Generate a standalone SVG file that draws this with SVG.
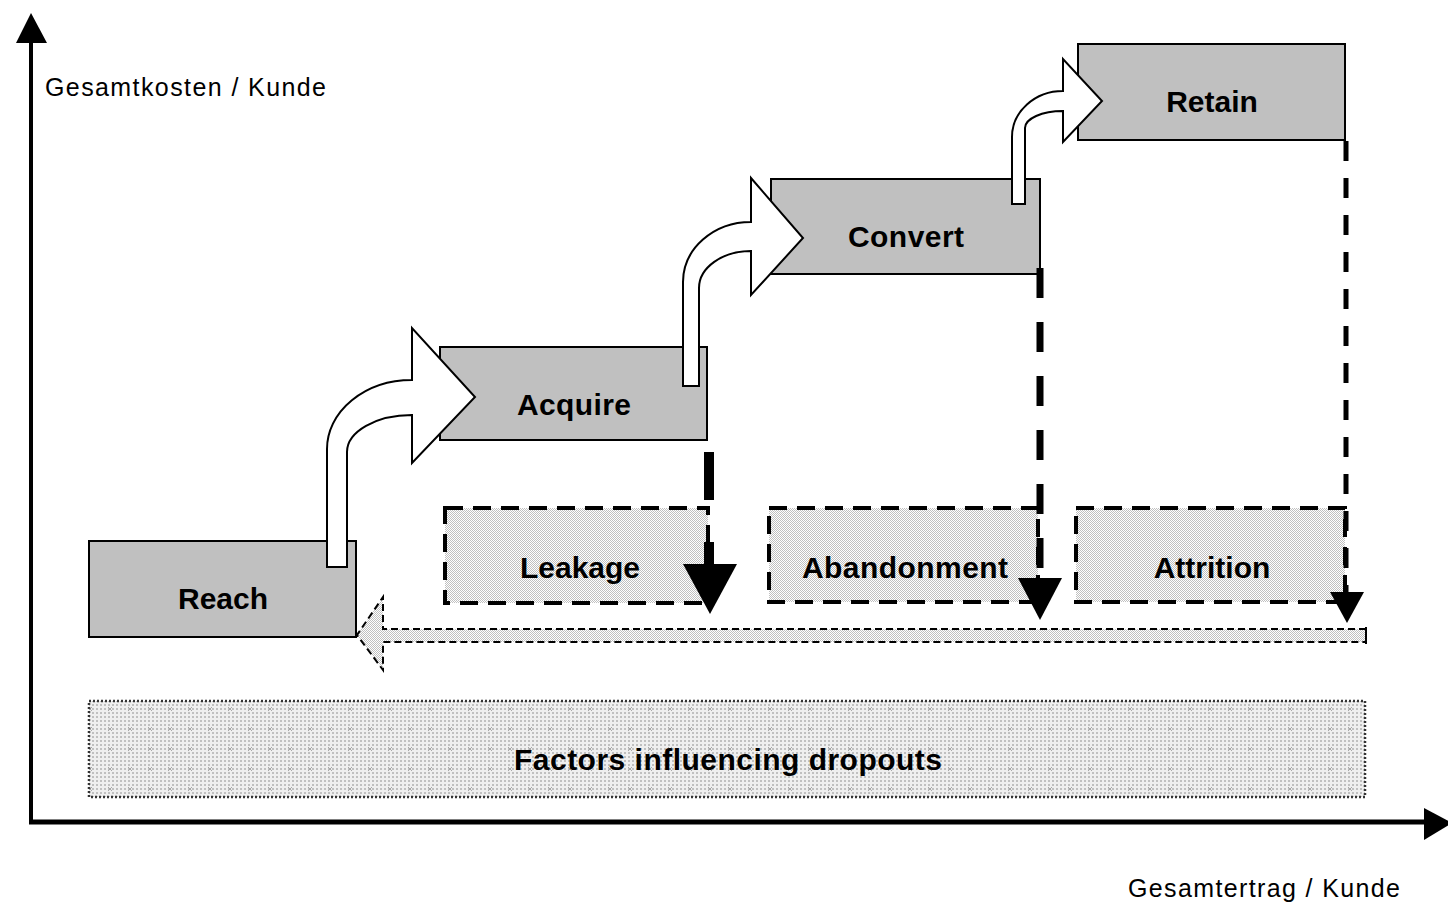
<svg xmlns="http://www.w3.org/2000/svg" width="1448" height="905" viewBox="0 0 1448 905">
  <defs>
    <!-- fine stipple used by the dropout boxes and the return arrow -->
    <pattern id="stipple" width="2" height="2" patternUnits="userSpaceOnUse">
      <rect width="2" height="2" fill="#ffffff"/>
      <rect width="1" height="1" fill="#c0c0c0"/>
      <rect x="1" y="1" width="1" height="1" fill="#c0c0c0"/>
    </pattern>
    <!-- dotted grid with small crosses for the factors band -->
    <pattern id="grid" width="20" height="20" patternUnits="userSpaceOnUse">
      <rect width="20" height="20" fill="#efefef"/>
      <rect x="0" y="0" width="2" height="2" fill="#c0c0c0"/>
      <rect x="4" y="0" width="2" height="2" fill="#c0c0c0"/>
      <rect x="8" y="0" width="2" height="2" fill="#c0c0c0"/>
      <rect x="12" y="0" width="2" height="2" fill="#c0c0c0"/>
      <rect x="16" y="0" width="2" height="2" fill="#c0c0c0"/>
      <rect x="0" y="4" width="2" height="2" fill="#c0c0c0"/>
      <rect x="4" y="4" width="2" height="2" fill="#c0c0c0"/>
      <rect x="8" y="4" width="2" height="2" fill="#c0c0c0"/>
      <rect x="12" y="4" width="2" height="2" fill="#c0c0c0"/>
      <rect x="16" y="4" width="2" height="2" fill="#c0c0c0"/>
      <rect x="0" y="8" width="2" height="2" fill="#c0c0c0"/>
      <rect x="4" y="8" width="2" height="2" fill="#c0c0c0"/>
      <rect x="8" y="8" width="2" height="2" fill="#c0c0c0"/>
      <rect x="12" y="8" width="2" height="2" fill="#c0c0c0"/>
      <rect x="16" y="8" width="2" height="2" fill="#c0c0c0"/>
      <rect x="0" y="12" width="2" height="2" fill="#c0c0c0"/>
      <rect x="4" y="12" width="2" height="2" fill="#c0c0c0"/>
      <rect x="8" y="12" width="2" height="2" fill="#c0c0c0"/>
      <rect x="12" y="12" width="2" height="2" fill="#c0c0c0"/>
      <rect x="16" y="12" width="2" height="2" fill="#c0c0c0"/>
      <rect x="0" y="16" width="2" height="2" fill="#c0c0c0"/>
      <rect x="4" y="16" width="2" height="2" fill="#c0c0c0"/>
      <rect x="8" y="16" width="2" height="2" fill="#c0c0c0"/>
      <rect x="12" y="16" width="2" height="2" fill="#c0c0c0"/>
      <rect x="16" y="16" width="2" height="2" fill="#c0c0c0"/>
      <path d="M8,7 l4,4 M12,7 l-4,4" stroke="#a8a8a8" stroke-width="1"/>
    </pattern>
  </defs>
  <style>
    .axis { stroke: #000; fill: none; }
    .axislabel { font-family: "Liberation Sans", Arial, sans-serif; font-size: 25px; fill: #000; }
    .stage { fill: #c0c0c0; stroke: #000; stroke-width: 2; }
    .drop { fill: url(#stipple); stroke: #000; stroke-width: 4; stroke-dasharray: 18 10; }
    .label { font-family: "Liberation Sans", Arial, sans-serif; font-size: 30px; font-weight: bold; fill: #000; text-anchor: middle; }
    .step { fill: #fff; stroke: #000; stroke-width: 2; stroke-linejoin: miter; }
    .head { fill: #000; stroke: none; }
  </style>

  <rect width="1448" height="905" fill="#ffffff"/>

  <!-- axes -->
  <g id="axes">
    <line class="axis" x1="31" y1="40" x2="31" y2="824" stroke-width="4"/>
    <polygon class="head" points="31,13 16,43 47,43"/>
    <line class="axis" x1="29" y1="822" x2="1428" y2="822" stroke-width="5"/>
    <polygon class="head" points="1452,823 1424,808 1424,840"/>
    <text class="axislabel" x="45" y="96" textLength="281" lengthAdjust="spacing">Gesamtkosten / Kunde</text>
    <text class="axislabel" x="1128" y="897" textLength="272" lengthAdjust="spacing">Gesamtertrag / Kunde</text>
  </g>

  <!-- factors band -->
  <g id="factors">
    <rect x="89" y="701" width="1276" height="96" fill="url(#grid)" stroke="#333" stroke-width="2.5" stroke-dasharray="2 2"/>
    <text class="label" x="728" y="770" textLength="428" lengthAdjust="spacing">Factors influencing dropouts</text>
  </g>

  <!-- dropout boxes -->
  <g id="leakage">
    <rect class="drop" x="445" y="508" width="263" height="95"/>
    <text class="label" x="580" y="578">Leakage</text>
  </g>
  <g id="abandonment">
    <rect class="drop" x="769" y="508" width="269" height="94"/>
    <text class="label" x="905" y="578" textLength="206" lengthAdjust="spacing">Abandonment</text>
  </g>
  <g id="attrition">
    <rect class="drop" x="1076" y="508" width="269" height="94"/>
    <text class="label" x="1212" y="578">Attrition</text>
  </g>

  <!-- stage boxes -->
  <g id="reach">
    <rect class="stage" x="89" y="541" width="267" height="96"/>
    <text class="label" x="223" y="609">Reach</text>
  </g>
  <g id="acquire">
    <rect class="stage" x="440" y="347" width="267" height="93"/>
    <text class="label" x="574" y="415" textLength="114" lengthAdjust="spacing">Acquire</text>
  </g>
  <g id="convert">
    <rect class="stage" x="771" y="179" width="269" height="95"/>
    <text class="label" x="906" y="247" textLength="116" lengthAdjust="spacing">Convert</text>
  </g>
  <g id="retain">
    <rect class="stage" x="1078" y="44" width="267" height="96"/>
    <text class="label" x="1212" y="112">Retain</text>
  </g>

  <g id="connectors">
    <!-- hollow step arrows between stages -->
    <path class="step" d="M327,567 V449 A85,69 0 0 1 412,380 V328 L475,397 L412,463 V415 A65,37 0 0 0 347,452 V567 Z"/>
    <path class="step" d="M683,386 V282 A68,60 0 0 1 751,222 V178 L803,238 L751,295 V251 A52,37 0 0 0 699,288 V386 Z"/>
    <path class="step" d="M1012,204 V137 A51,46 0 0 1 1063,91 V59 L1102,101 L1063,142 V111 A38,17 0 0 0 1025,128 V204 Z"/>

    <!-- dropout arrows -->
    <line x1="709" y1="452" x2="709" y2="570" stroke="#000" stroke-width="10" stroke-dasharray="48 42"/>
    <polygon class="head" points="683,564 737,564 710,614"/>
    <line x1="1040" y1="268" x2="1040" y2="585" stroke="#000" stroke-width="7" stroke-dasharray="30 24"/>
    <polygon class="head" points="1018,578 1062,578 1040,620"/>
    <line x1="1346" y1="141" x2="1346" y2="595" stroke="#000" stroke-width="5" stroke-dasharray="20 17"/>
    <polygon class="head" points="1330,592 1364,592 1347,623"/>

    <!-- dashed return arrow back to Reach -->
    <path d="M1366,629 H383 V597 L357,635 L383,670 V642 H1366 Z" fill="url(#stipple)" stroke="#000" stroke-width="2" stroke-dasharray="7 4"/>
    <line x1="1366" y1="627" x2="1366" y2="644" stroke="#000" stroke-width="2"/>
  </g>
</svg>
